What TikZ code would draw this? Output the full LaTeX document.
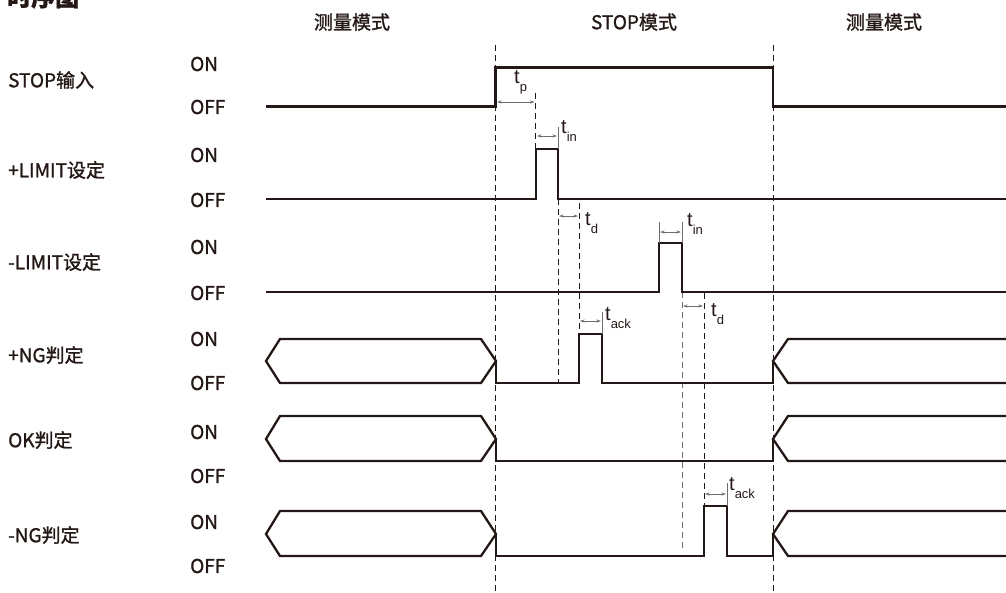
\documentclass[tikz,border=0pt]{standalone}
\usepackage{fontspec}
\setmainfont{Noto Sans CJK SC}[FakeBold=1.2]
\newfontfamily\tfont{Liberation Sans}
\usetikzlibrary{arrows.meta}
\definecolor{ink}{HTML}{231815}
\definecolor{tick}{HTML}{6E6E6E}
\newcommand{\tsub}[1]{{\tfont\fontsize{20}{20}\selectfont t\raisebox{-0.4em}{\fontsize{13}{13}\selectfont #1}}}
\begin{document}
\begin{tikzpicture}[x=1pt,y=-1pt,
  sig/.style={draw=ink,line width=2.3pt,line join=miter},
  guide/.style={draw=ink,line width=0.8pt,dash pattern=on 6pt off 4pt},
  guideg/.style={draw=tick,line width=0.9pt,dash pattern=on 6pt off 4pt},
  tk/.style={draw=tick,line width=0.7pt},
  dim/.style={draw=tick,line width=0.7pt,{Stealth[length=4.5pt,width=3pt]}-{Stealth[length=4.5pt,width=3pt]}},
  lab/.style={anchor=west,inner sep=0pt,text=ink,font=\fontsize{19}{22}\selectfont},
  head/.style={anchor=center,inner sep=0pt,text=ink,font=\fontsize{19}{22}\selectfont},
  tl/.style={anchor=west,inner sep=0pt,text=ink}]
\useasboundingbox (0,0) rectangle (1006,592);
% title
\node[anchor=base west,inner sep=0pt,text=ink,font=\fontsize{24}{26}\selectfont\bfseries] (title) at (7,6) {时序图};
% headers
\node[head] (h1) at (352,22) {测量模式};
\node[head] (h2) at (634,22) {STOP模式};
\node[head] (h3) at (884,22) {测量模式};
% row labels
\node[lab] (l1) at (8,80) {STOP输入};
\node[lab] (l2) at (8,170) {+LIMIT设定};
\node[lab] (l3) at (8,262) {-LIMIT设定};
\node[lab] (l4) at (8,355) {+NG判定};
\node[lab] (l5) at (8,440) {OK判定};
\node[lab] (l6) at (8,535) {-NG判定};
% ON/OFF
\foreach \n/\on/\off in {1/64/107,2/155/200,3/247/293,4/339/383,5/432/476,6/522/566}{
  \node[lab] (on\n) at (190,\on) {ON};
  \node[lab] (off\n) at (190,\off) {OFF};
}
% dashed guides
\draw[guide] (495.5,45) -- (495.5,592);
\draw[guide] (773,45) -- (773,592);
\draw[guide] (535.5,93) -- (535.5,149);
\draw[guide] (558,199) -- (558,383);
\draw[guide] (579,203) -- (579,334);
\draw[guideg] (682,292) -- (682,552);
\draw[guide] (704,293) -- (704,506);
% signals
\draw[sig] (266,106.5) -- (495.5,106.5) -- (495.5,67.5) -- (773,67.5) -- (773,106.5) -- (1006,106.5);
\draw[sig] (266,199) -- (536,199) -- (536,149) -- (558,149) -- (558,199) -- (1006,199);
\draw[sig] (266,292) -- (659,292) -- (659,243) -- (682,243) -- (682,292) -- (1006,292);
% +NG
\draw[sig] (266,361) -- (280,339) -- (481,339) -- (496,361) -- (481,383) -- (280,383) -- cycle;
\draw[sig] (496,361) -- (496,383) -- (579,383) -- (579,334) -- (602,334) -- (602,383) -- (773,383) -- (773,361);
\draw[sig] (1006,339) -- (788,339) -- (773,361) -- (788,383) -- (1006,383);
% OK
\draw[sig] (266,439) -- (280,416) -- (481,416) -- (496,439) -- (481,461) -- (280,461) -- cycle;
\draw[sig] (496,439) -- (496,461) -- (773,461) -- (773,439);
\draw[sig] (1006,416) -- (788,416) -- (773,439) -- (788,461) -- (1006,461);
% -NG
\draw[sig] (266,534) -- (280,511) -- (481,511) -- (496,534) -- (481,556) -- (280,556) -- cycle;
\draw[sig] (496,534) -- (496,556) -- (704,556) -- (704,506) -- (727,506) -- (727,556) -- (773,556) -- (773,534);
\draw[sig] (1006,511) -- (788,511) -- (773,534) -- (788,556) -- (1006,556);
% ticks
\draw[tk] (558,127) -- (558,149);
\draw[tk] (659,222) -- (659,243);
\draw[tk] (682,222) -- (682,243);
\draw[tk] (602,312) -- (602,334);
\draw[tk] (727,483) -- (727,506);
% dimension arrows
\draw[dim] (497,102) -- (534.5,102);
\draw[dim] (537,136) -- (557,136);
\draw[dim] (559,216) -- (578,216);
\draw[dim] (660,232) -- (681,232);
\draw[dim] (683,306) -- (703,306);
\draw[dim] (580,321) -- (601,321);
\draw[dim] (705,494) -- (726,494);
% time labels
\node[tl] (tp) at (514,82) {\tsub{p}};
\node[tl] (tin1) at (561,131) {\tsub{in}};
\node[tl] (td1) at (585,223) {\tsub{d}};
\node[tl] (tin2) at (687,224) {\tsub{in}};
\node[tl] (td2) at (711,314) {\tsub{d}};
\node[tl] (tack1) at (605,318) {\tsub{ack}};
\node[tl] (tack2) at (729,488) {\tsub{ack}};
\end{tikzpicture}
\end{document}
